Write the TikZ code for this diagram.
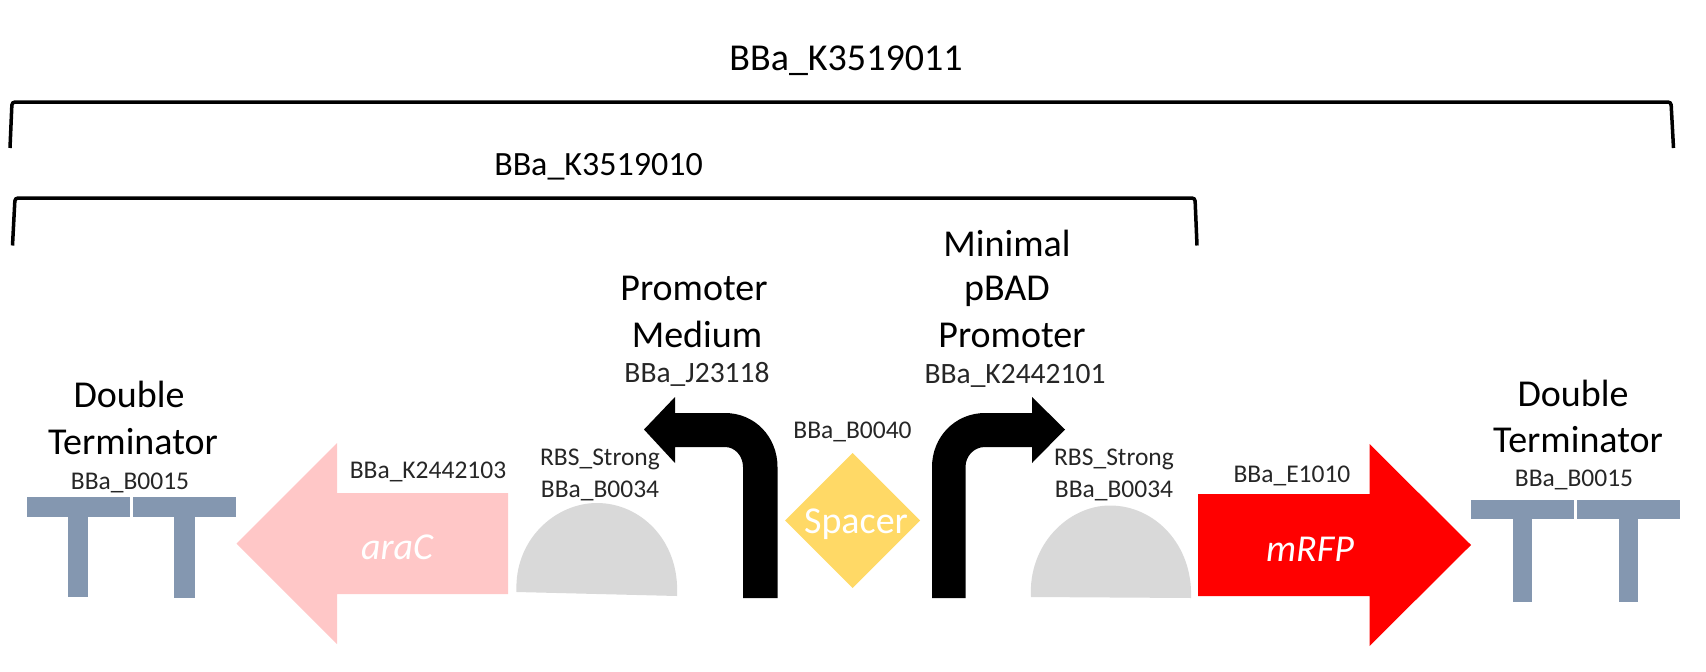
\documentclass[tikz,border=0pt]{standalone}
\usepackage{fontspec}
\setmainfont{Carlito}
\usepackage{tikz}

\definecolor{termblue}{HTML}{8497B0}
\definecolor{arapink}{HTML}{FFC7C7}
\definecolor{rbsgray}{HTML}{D9D9D9}
\definecolor{spacergold}{HTML}{FFD966}

\tikzset{
   biglabel/.style={inner sep=0pt, font=\fontsize{38}{40}\selectfont},
   midlabel/.style={inner sep=0pt, font=\fontsize{29.5}{32}\selectfont, text=black!85},
   smalllabel/.style={inner sep=0pt, font=\fontsize{25.5}{28}\selectfont, text=black!85},
   bracket/.style={draw=black, line width=3.5pt, rounded corners=3pt},
   partlabel/.style={inner sep=0pt, text=white, font=\fontsize{38}{40}\selectfont}
}

\begin{document}
\begin{tikzpicture}[x=1pt, y=-1pt]

   \useasboundingbox (0,0) rectangle (1706,672);

   \draw[bracket] (10,148) -- (12,102) -- (1671,102) -- (1673.5,148);
   \draw[bracket] (12.5,245.5) -- (15,198) -- (1195,198) -- (1197,245.5);

   \node[biglabel] (outerName) at (846,61) {BBa\_K3519011};
   \node[biglabel, font=\fontsize{34}{36}\selectfont] (innerName) at (598.5,167) {BBa\_K3519010};

   % left terminator
   \fill[termblue] (27,497) rectangle (129.5,517);
   \fill[termblue] (68,517) rectangle (88,597);
   \fill[termblue] (132.5,497) rectangle (235.5,517);
   \fill[termblue] (174,517) rectangle (194.5,598);
   \node[biglabel] (termLeftA) at (129,394) {Double};
   \node[biglabel] (termLeftB) at (133,442) {Terminator};
   \node[smalllabel] (termLeftC) at (130,483) {BBa\_B0015};

   % araC
   \fill[arapink] (508,493) -- (337,493) -- (337,443) -- (236.5,543.5) -- (337,644) -- (337,594) -- (508,594) -- cycle;
   \node[partlabel, font=\fontsize{38}{40}\itshape\selectfont] (araC) at (397,547) {araC};
   \node[smalllabel] (araName) at (428,472) {BBa\_K2442103};

   % left rbs
   \fill[rbsgray] (516.5,592) .. controls (514,540) and (555,503) .. (597,503) .. controls (640,503) and (680,540) .. (677,596) -- cycle;
   \node[smalllabel] (rbsLeftA) at (600,459) {RBS\_Strong};
   \node[smalllabel] (rbsLeftB) at (600,491) {BBa\_B0034};

   % left promoter
   \fill[black] (777.5,598) -- (777.5,467) .. controls (777.5,437) and (755,413) .. (725,413) -- (675,413) -- (675,397) -- (644,429.5) -- (675,463) -- (675,447) -- (725,447) .. controls (735,447) and (743,456) .. (743,467) -- (743,598) -- cycle;
   \node[biglabel] (promLeftA) at (694,288) {Promoter};
   \node[biglabel] (promLeftB) at (697,334) {Medium};
   \node[midlabel] (promLeftC) at (697,374) {BBa\_J23118};

   % spacer
   \fill[spacergold] (852.5,453) -- (920,520.5) -- (852.5,588) -- (785,520.5) -- cycle;
   \node[partlabel] (spacer) at (856,524) {Spacer};
   \node[smalllabel] (spacerName) at (852.5,432) {BBa\_B0040};

   % right promoter
   \fill[black] (932,598) -- (932,467) .. controls (932,437) and (955,413) .. (985,413) -- (1032,413) -- (1032,397) -- (1065,429.5) -- (1032,463) -- (1032,447) -- (985,447) .. controls (974,447) and (965.5,456) .. (965.5,467) -- (965.5,598) -- cycle;
   \node[biglabel] (promRightA) at (1007,243) {Minimal};
   \node[biglabel] (promRightB) at (1007,291) {pBAD};
   \node[biglabel] (promRightC) at (1012,335) {Promoter};
   \node[midlabel] (promRightD) at (1015,376) {BBa\_K2442101};

   % right rbs
   \fill[rbsgray] (1031,597) .. controls (1028,545) and (1068,505.5) .. (1110,505.5) .. controls (1155,505.5) and (1193,545) .. (1191,598) -- cycle;
   \node[smalllabel] (rbsRightA) at (1114,459) {RBS\_Strong};
   \node[smalllabel] (rbsRightB) at (1114,491) {BBa\_B0034};

   % mRFP
   \fill[red] (1198,494) -- (1369.5,494) -- (1369.5,444) -- (1471,545) -- (1369.5,646) -- (1369.5,596) -- (1198,596) -- cycle;
   \node[partlabel, font=\fontsize{38}{40}\itshape\selectfont] (mRFP) at (1310,549) {mRFP};
   \node[smalllabel] (mrfpName) at (1292,476) {BBa\_E1010};

   % right terminator
   \fill[termblue] (1471,500) rectangle (1574,519);
   \fill[termblue] (1513,519) rectangle (1532,602);
   \fill[termblue] (1577,500) rectangle (1680,519);
   \fill[termblue] (1619,519) rectangle (1638,602);
   \node[biglabel] (termRightA) at (1573,393) {Double};
   \node[biglabel] (termRightB) at (1578,440) {Terminator};
   \node[smalllabel] (termRightC) at (1574,480) {BBa\_B0015};

\end{tikzpicture}
\end{document}
